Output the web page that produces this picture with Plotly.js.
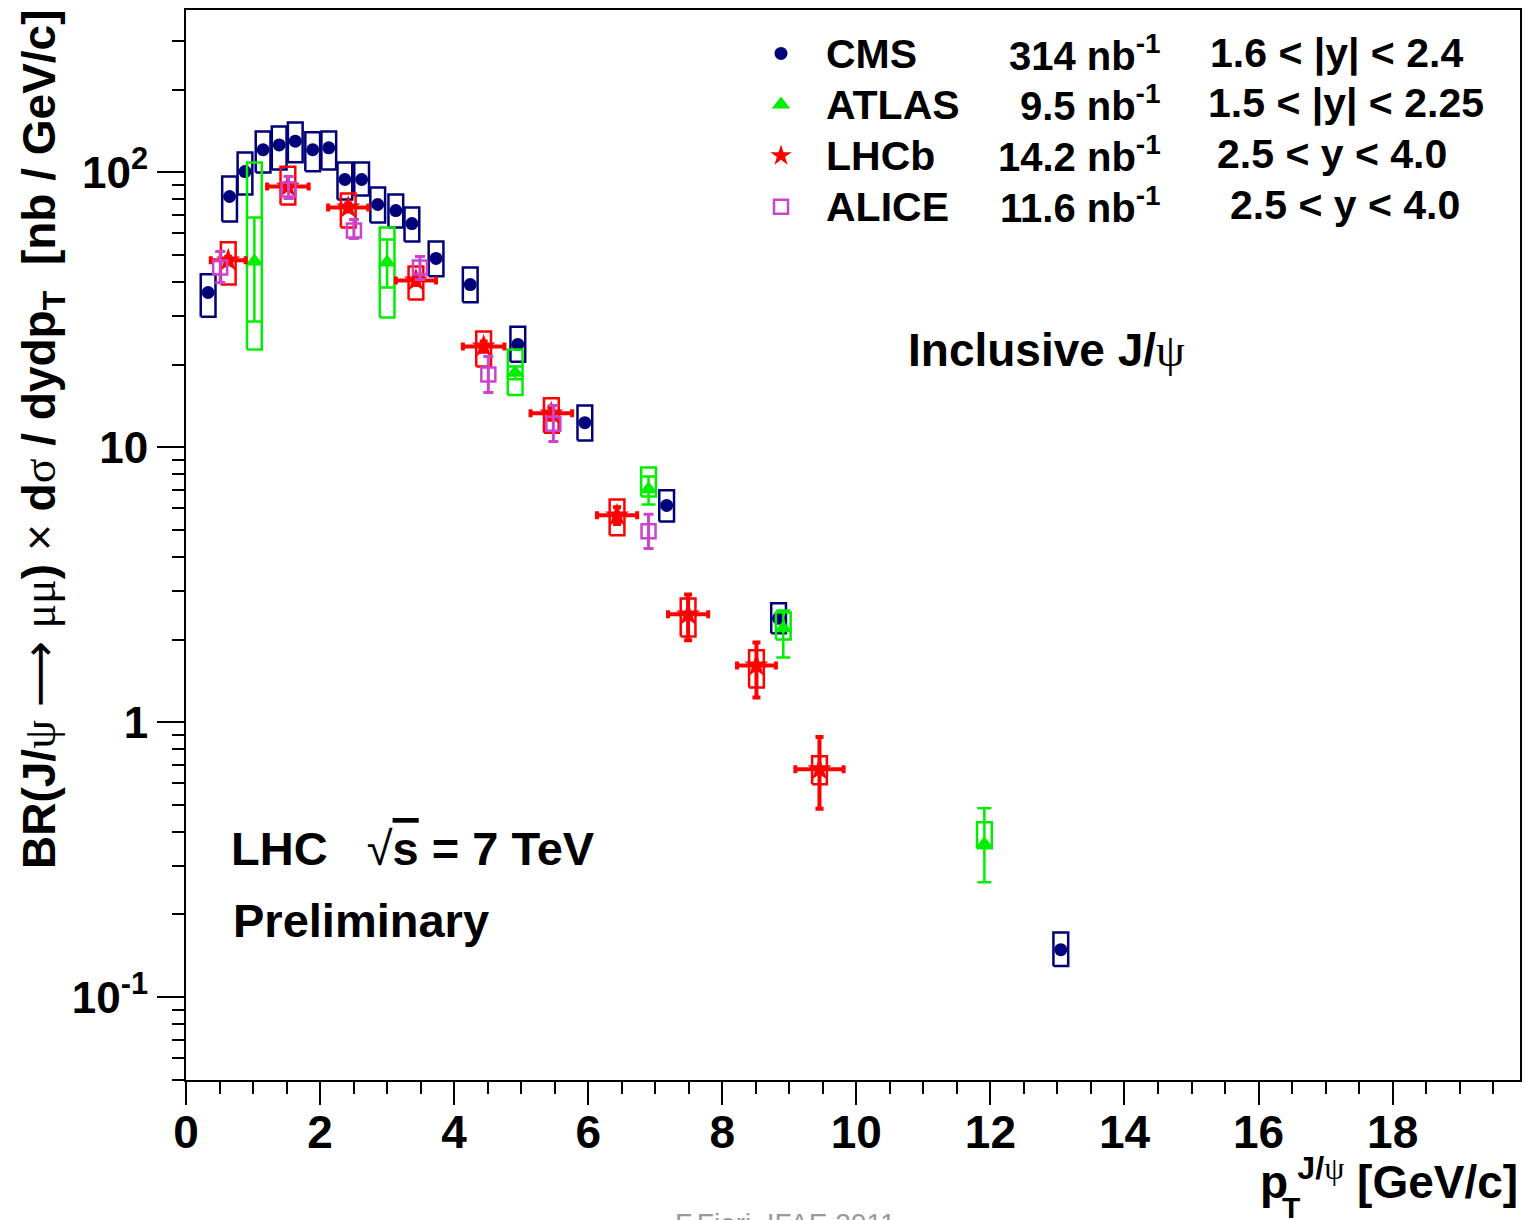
<!DOCTYPE html>
<html>
<head>
<meta charset="utf-8">
<script src="https://cdn.plot.ly/plotly-3.0.1.min.js"></script>
<style>html,body{margin:0;padding:0;background:#fff;}#chart{width:1526px;height:1220px;}</style>
</head>
<body>
<div id="chart"></div>
<script>
// ---- data ----
const cmsPt    = [0.33, 0.65, 0.88, 1.15, 1.39, 1.63, 1.89, 2.13, 2.37, 2.62, 2.86, 3.13, 3.37, 3.73, 4.24, 4.95, 5.95, 7.17, 8.84, 13.05];
const cmsY     = [36.6, 81.8, 100.8, 121, 126, 130, 121, 123, 94.3, 94.3, 76.5, 72.7, 65.2, 48.7, 39.1, 23.7, 12.3, 6.15, 2.39, 0.149];
const cmsSysUp = [6.0, 14.9, 17.4, 20, 21, 22, 19, 18, 14.4, 14.4, 11.7, 10.5, 9.4, 7.4, 6.0, 3.8, 1.9, 0.83, 0.32, 0.023];
const cmsSysDn = [6.7, 15.5, 17.6, 21, 23.5, 21, 20, 20.5, 14.5, 11.8, 10.7, 9.6, 9.1, 6.8, 5.4, 3.2, 1.7, 0.77, 0.28, 0.019];

const atlasPt     = [1.02, 3.00, 4.91, 6.90, 8.91, 11.91];
const atlasY      = [47.5, 47.1, 18.7, 7.04, 2.2, 0.36];
const atlasSysUp  = [61.2, 16.0, 4.0, 1.42, 0.31, 0.073];
const atlasSysDn  = [24.8, 17.4, 3.2, 0.41, 0.2, 0.012];
const atlasStatUp = [21.1, 10.0, 1.0, 0.8, 0.35, 0.127];
const atlasStatDn = [18.8, 8.9, 1.0, 0.84, 0.48, 0.098];

const lhcbPt     = [0.63, 1.52, 2.42, 3.43, 4.44, 5.45, 6.43, 7.49, 8.51, 9.45];
const lhcbPtErr  = [0.26, 0.31, 0.30, 0.30, 0.31, 0.31, 0.30, 0.30, 0.29, 0.36];
const lhcbY      = [47.9, 88.9, 74.6, 40.5, 23.3, 13.3, 5.66, 2.47, 1.61, 0.675];
const lhcbSysUp  = [7.8, 16, 9.2, 5.0, 3.1, 1.8, 0.81, 0.35, 0.22, 0.077];
const lhcbSysDn  = [8.8, 12.4, 11.5, 6.0, 3.6, 2.0, 0.87, 0.42, 0.27, 0.08];
const lhcbStatUp = [1.5, 2.5, 2.5, 1.5, 1.0, 0.7, 0.4, 0.45, 0.34, 0.21];
const lhcbStatDn = [1.5, 2.5, 2.5, 1.5, 1.0, 0.7, 0.4, 0.48, 0.38, 0.19];

const alicePt     = [0.51, 1.53, 2.505, 3.49, 4.51, 5.48, 6.90];
const aliceY      = [45.1, 86.7, 61.5, 45.1, 18.4, 12.2, 4.95];
const aliceStatUp = [6.5, 10.0, 6.0, 4.4, 3.0, 2.0, 0.76];
const aliceStatDn = [5.3, 6.3, 4.0, 4.3, 2.55, 1.7, 0.66];

const expNames = ["CMS", "ATLAS", "LHCb", "ALICE"];
const expLumi  = ["314 nb<sup>-1</sup>", "9.5 nb<sup>-1</sup>", "14.2 nb<sup>-1</sup>", "11.6 nb<sup>-1</sup>"];
const expRap   = ["1.6 &lt; |y| &lt; 2.4", "1.5 &lt; |y| &lt; 2.25", "2.5 &lt; y &lt; 4.0", "2.5 &lt; y &lt; 4.0"];

const yTickVals = [0.1, 1, 10, 100];
const yTickText = ["10<sup>-1</sup>", "1", "10", "10<sup>2</sup>"];

// ---- styling ----
const FONT = "Liberation Sans, Arial, Helvetica, sans-serif";
const SERIF = "Liberation Serif, Times New Roman, serif";
const C_CMS = "#00007a", C_ATLAS = "#00ee00", C_LHCB = "#ff0000", C_ALICE = "#cc44cc";
const HW = 0.11; // half width of systematic boxes (pT units)

function greek(t) { return '<span style="font-family:' + SERIF + '">' + t + '</span>'; }
function legName(t) { return '<span style="font-size:41px">' + t + '</span>'; }

function boxTrace(xs, ys, up, dn, color) {
  const bx = [], by = [];
  xs.forEach((x, i) => {
    const lo = ys[i] - dn[i], hi = ys[i] + up[i];
    bx.push(x - HW, x + HW, x + HW, x - HW, x - HW, null);
    by.push(lo, lo, hi, hi, lo, null);
  });
  return {type: "scatter", mode: "lines", x: bx, y: by, line: {color: color, width: 2.5},
          showlegend: false, hoverinfo: "skip", connectgaps: false};
}

const traces = [
  boxTrace(cmsPt, cmsY, cmsSysUp, cmsSysDn, C_CMS),
  {type: "scatter", mode: "markers", name: legName(expNames[0]), x: cmsPt, y: cmsY,
   marker: {symbol: "circle", size: 13, color: C_CMS}},
  boxTrace(atlasPt, atlasY, atlasSysUp, atlasSysDn, C_ATLAS),
  {type: "scatter", mode: "markers", name: legName(expNames[1]), x: atlasPt, y: atlasY,
   marker: {symbol: "triangle-up", size: 16, color: C_ATLAS},
   error_y: {type: "data", symmetric: false, array: atlasStatUp, arrayminus: atlasStatDn,
             color: C_ATLAS, thickness: 2.5, width: 7}},
  boxTrace(lhcbPt, lhcbY, lhcbSysUp, lhcbSysDn, C_LHCB),
  {type: "scatter", mode: "markers", name: legName(expNames[2]), x: lhcbPt, y: lhcbY,
   marker: {symbol: "star", size: 18, color: C_LHCB},
   error_x: {type: "data", array: lhcbPtErr, color: C_LHCB, thickness: 4, width: 4},
   error_y: {type: "data", symmetric: false, array: lhcbStatUp, arrayminus: lhcbStatDn,
             color: C_LHCB, thickness: 4, width: 4}},
  {type: "scatter", mode: "markers", name: legName(expNames[3]), x: alicePt, y: aliceY,
   marker: {symbol: "square-open", size: 14, color: C_ALICE, line: {width: 2.5, color: C_ALICE}},
   error_y: {type: "data", symmetric: false, array: aliceStatUp, arrayminus: aliceStatDn,
             color: C_ALICE, thickness: 3, width: 5}}
];

// minor tick positions for the log axis
const yMinor = [];
for (let d = -2; d <= 2; d++) for (let m = 2; m <= 9; m++) yMinor.push(m * Math.pow(10, d));

const rowY = [0.96, 0.913, 0.865, 0.818];
const rapX = [0.766, 0.7646, 0.7714, 0.781];

const annotations = [];
expLumi.forEach((t, i) => annotations.push({xref: "paper", yref: "paper", x: 0.7324, y: rowY[i],
  xanchor: "right", yanchor: "middle", showarrow: false, text: "<b>" + t + "</b>",
  font: {family: FONT, size: 40, color: "#000"}}));
expRap.forEach((t, i) => annotations.push({xref: "paper", yref: "paper", x: rapX[i], y: rowY[i],
  xanchor: "left", yanchor: "middle", showarrow: false, text: "<b>" + t + "</b>",
  font: {family: FONT, size: 41, color: "#000"}}));

annotations.push(
  {xref: "paper", yref: "paper", x: 0.645, y: 0.682, xanchor: "center", yanchor: "middle", showarrow: false,
   text: "<b>Inclusive J/</b>" + greek("ψ"), font: {family: FONT, size: 46, color: "#000"}},
  {xref: "paper", yref: "paper", x: 0.032, y: 0.2168, xanchor: "left", yanchor: "middle", showarrow: false,
   text: "<b>LHC\u00a0\u00a0\u00a0</b>√<b><span style=\"text-decoration:overline\">s</span> = 7 TeV</b>",
   font: {family: FONT, size: 47, color: "#000"}},
  {xref: "paper", yref: "paper", x: 0.034, y: 0.1486, xanchor: "left", yanchor: "middle", showarrow: false,
   text: "<b>Preliminary</b>", font: {family: FONT, size: 47, color: "#000"}},
  {xref: "paper", yref: "paper", x: -0.108, y: 0.599, xanchor: "center", yanchor: "middle", showarrow: false,
   textangle: -90,
   text: "<b>BR(J/</b>" + greek("ψ") + ' <span style="font-family:DejaVu Sans">⟶</span> ' + greek("μμ") +
         "<b>)</b> × <b>d</b>" + greek("σ") + "<b> / dydp<sub>T</sub>\u00a0\u00a0[nb / GeV/c]</b>",
   font: {family: FONT, size: 46, color: "#000"}},
  {xref: "paper", yref: "paper", x: 1.0, y: -0.0925, xanchor: "right", yanchor: "middle", showarrow: false,
   text: "<b>p\u2009</b><sup><b>J/</b>" + greek("ψ") + "</sup><b> [GeV/c]</b>", font: {family: FONT, size: 46, color: "#000"}},
  {xref: "paper", yref: "paper", x: 0.8283, y: -0.1195, xanchor: "center", yanchor: "middle", showarrow: false,
   text: "<b>T</b>", font: {family: FONT, size: 30, color: "#000"}},
  {xref: "paper", yref: "paper", x: 0.449, y: -0.1178, xanchor: "center", yanchor: "top", showarrow: false,
   text: "F.Fiori, IFAE 2011", font: {family: FONT, size: 28, color: "#999"}}
);

const layout = {
  width: 1526, height: 1220,
  margin: {l: 186, r: 6, t: 10, b: 140},
  paper_bgcolor: "#fff", plot_bgcolor: "#fff",
  showlegend: true,
  legend: {x: 0.4123, y: 0.988, xanchor: "left", yanchor: "top", bgcolor: "rgba(0,0,0,0)", borderwidth: 0,
           font: {family: FONT, size: 37, color: "#000", weight: "bold"}, itemwidth: 80, tracegroupgap: 0},
  xaxis: {
    range: [0, 19.9], tick0: 0, dtick: 2, ticks: "outside", ticklen: 23, tickwidth: 2, tickcolor: "#000",
    ticklabelstandoff: -12,
    showline: true, linewidth: 2, linecolor: "#000", mirror: true, showgrid: false, zeroline: false,
    tickfont: {family: FONT, size: 46, color: "#000", weight: "bold"},
    minor: {dtick: 0.5, tick0: 0, ticks: "outside", ticklen: 12, tickwidth: 2, tickcolor: "#000", showgrid: false}
  },
  yaxis: {
    type: "log", range: [Math.log10(0.05), Math.log10(390)],
    tickmode: "array", tickvals: yTickVals, ticktext: yTickText,
    ticks: "outside", ticklen: 27, tickwidth: 2, tickcolor: "#000",
    showline: true, linewidth: 2, linecolor: "#000", mirror: true, showgrid: false, zeroline: false,
    tickfont: {family: FONT, size: 44, color: "#000", weight: "bold"},
    minor: {tickmode: "array", tickvals: yMinor, ticks: "outside", ticklen: 12, tickwidth: 2, tickcolor: "#000", showgrid: false}
  },
  annotations: annotations
};

Plotly.newPlot("chart", traces, layout, {displayModeBar: false, staticPlot: true});
</script>
</body>
</html>
